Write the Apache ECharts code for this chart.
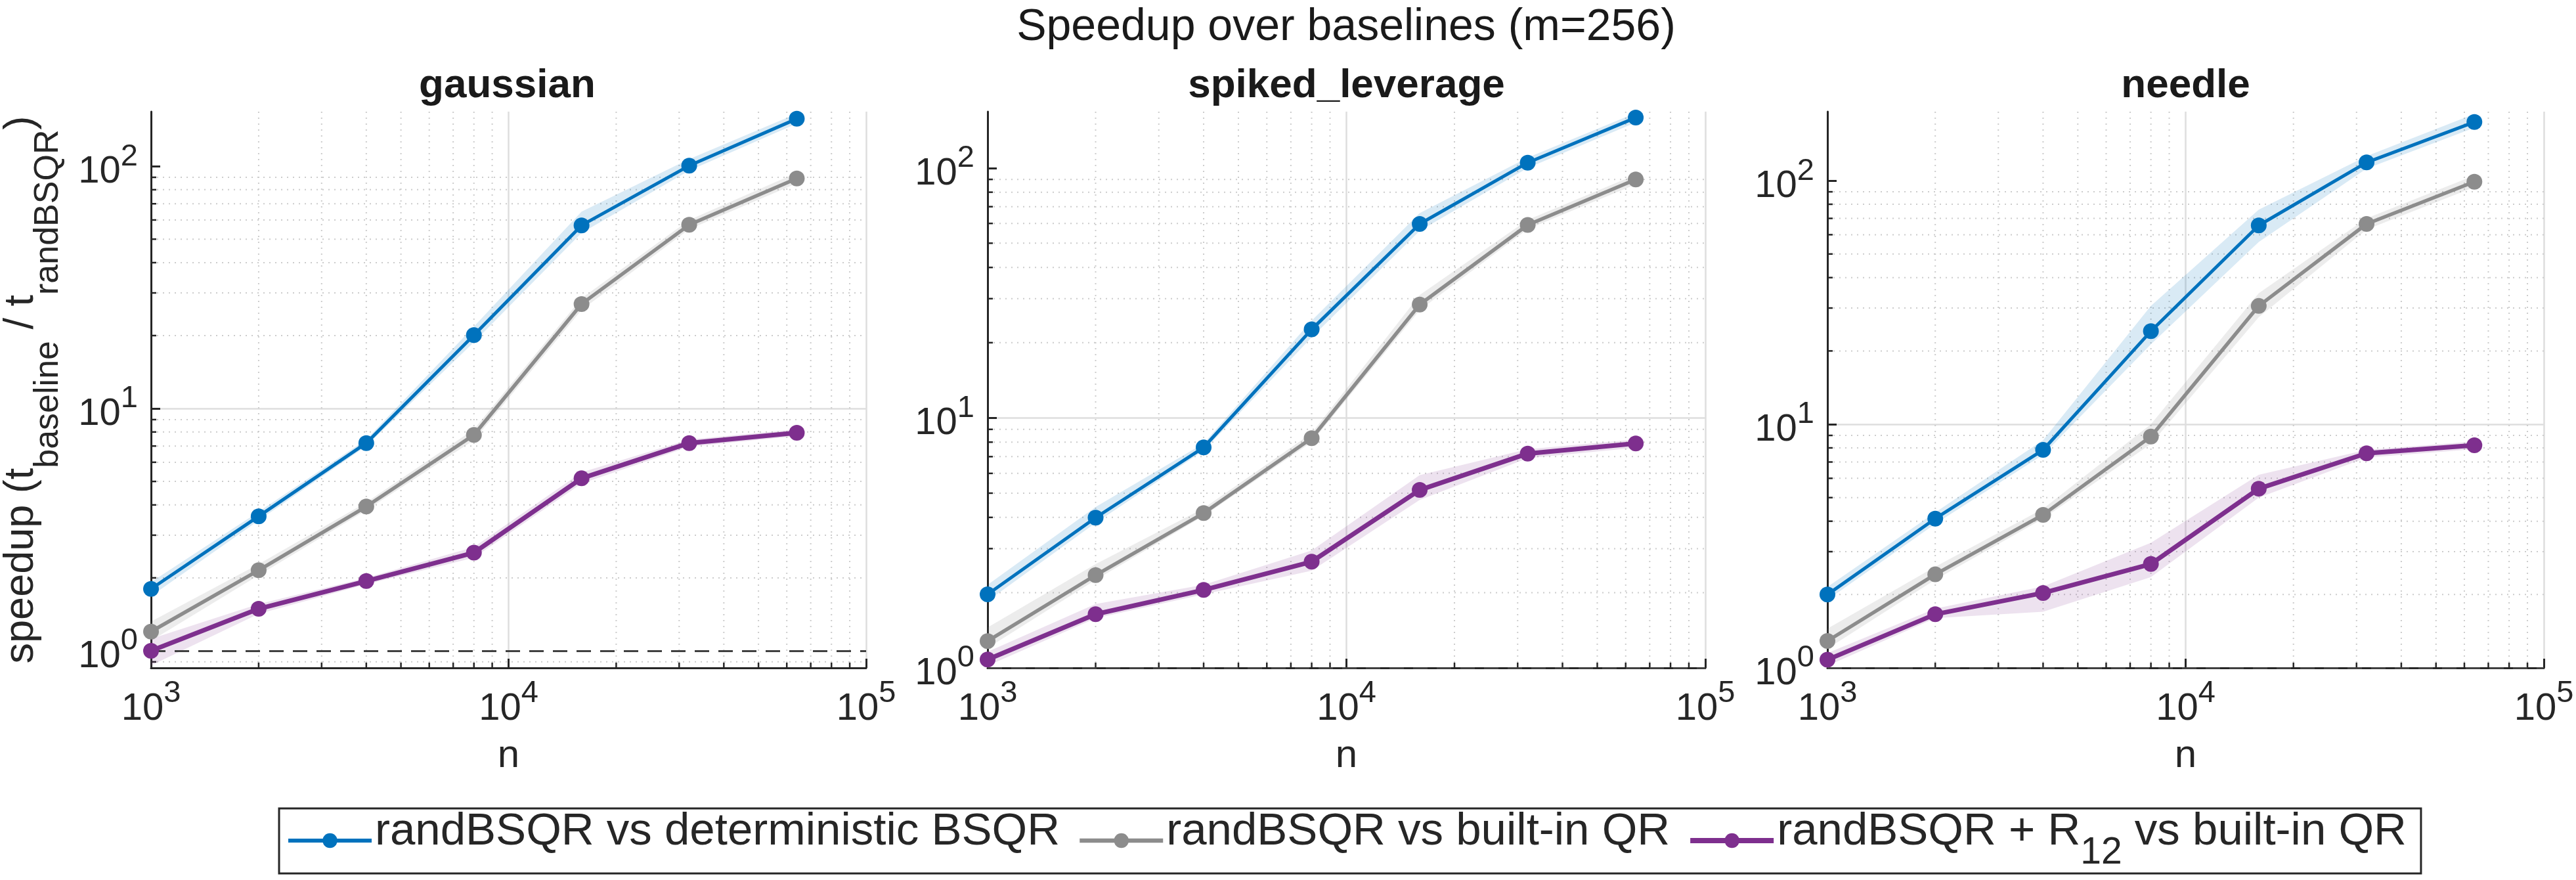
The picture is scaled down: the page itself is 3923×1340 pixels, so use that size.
<!DOCTYPE html>
<html><head><meta charset="utf-8">
<script src="https://cdn.jsdelivr.net/npm/echarts@6/dist/echarts.min.js"></script>
<style>html,body{margin:0;padding:0;background:#fff}#c{width:3923px;height:1340px}</style>
</head><body><div id="c"></div>
<script>
// ---------------- data ----------------
const nValues = [1000, 2000, 4000, 8000, 16000, 32000, 64000];
const panelTitles = ['gaussian', 'spiked_leverage', 'needle'];
const seriesNames = ['randBSQR vs deterministic BSQR', 'randBSQR vs built-in QR', 'randBSQR + R12 vs built-in QR'];
const mainTitle = 'Speedup over baselines (m=256)';
const xAxisName = 'n';
const baselineSpeedup = 1;

// gaussian
const gaussDetMean = [1.80, 3.59, 7.2, 20.1, 57, 100.5, 157];
const gaussDetLo   = [1.68, 3.45, 7.0, 18.8, 53, 96, 150];
const gaussDetHi   = [1.92, 3.75, 7.45, 21.8, 65, 107, 165];
const gaussQrMean  = [1.20, 2.15, 3.94, 7.78, 27.0, 57.3, 89];
const gaussQrLo    = [1.10, 2.05, 3.80, 7.40, 25.5, 55, 85];
const gaussQrHi    = [1.32, 2.28, 4.10, 8.20, 28.5, 60, 94];
const gaussR12Mean = [1.00, 1.49, 1.94, 2.54, 5.15, 7.2, 7.94];
const gaussR12Lo   = [0.87, 1.42, 1.88, 2.42, 4.90, 6.95, 7.7];
const gaussR12Hi   = [1.12, 1.56, 2.00, 2.68, 5.45, 7.45, 8.2];
// spiked_leverage
const spikedDetMean = [1.97, 3.99, 7.62, 22.6, 59.7, 105, 159];
const spikedDetLo   = [1.85, 3.80, 7.40, 21.0, 56, 100, 152];
const spikedDetHi   = [2.15, 4.40, 7.90, 24.5, 66, 110, 166];
const spikedQrMean  = [1.28, 2.35, 4.16, 8.3, 28.4, 59.2, 90];
const spikedQrLo    = [1.20, 2.25, 4.05, 8.0, 27.0, 57, 86];
const spikedQrHi    = [1.45, 2.60, 4.35, 8.7, 31.0, 62, 94];
const spikedR12Mean = [1.08, 1.64, 2.05, 2.66, 5.15, 7.2, 7.9];
const spikedR12Lo   = [1.02, 1.58, 1.97, 2.45, 4.70, 6.9, 7.6];
const spikedR12Hi   = [1.16, 1.80, 2.15, 2.95, 5.90, 7.5, 8.2];
// needle
const needleDetMean = [2.0, 4.1, 7.85, 24.1, 65.5, 118.8, 174];
const needleDetLo   = [1.9, 3.9, 7.5, 21.3, 56, 112, 165];
const needleDetHi   = [2.15, 4.35, 8.6, 30.6, 76, 126, 188];
const needleQrMean  = [1.29, 2.42, 4.25, 8.9, 30.6, 66.4, 99];
const needleQrLo    = [1.20, 2.30, 4.10, 8.3, 27.5, 63, 94];
const needleQrHi    = [1.45, 2.60, 4.50, 10.0, 34.5, 70, 105];
const needleR12Mean = [1.08, 1.66, 2.03, 2.67, 5.44, 7.6, 8.2];
const needleR12Lo   = [1.02, 1.60, 1.70, 2.36, 5.00, 7.3, 7.9];
const needleR12Hi   = [1.15, 1.75, 2.16, 3.26, 6.20, 7.85, 8.5];

// axis ranges and ticks
const xMin = 1000, xMax = 100000;
const yMinByPanel = [0.85, 1, 1];
const yMaxByPanel = [168, 168, 192];
const yMajorTicks = [1, 10, 100];
const decadesX = [1000, 10000];
const decadesY = [0.1, 1, 10, 100];
const minorMultipliers = [2, 3, 4, 5, 6, 7, 8, 9];

// ---------------- styling ----------------
const FONT = "'Liberation Sans', Arial, Helvetica, sans-serif";
const TXT = '#262626';
const colors = ['#0072BD', '#8C8C8C', '#7E2F8E'];
const bandColors = ['rgba(0,114,189,0.15)', 'rgba(128,128,128,0.15)', 'rgba(126,47,142,0.14)'];
const lineWidths = [5, 5.5, 7];
const grids = [
  {left: 226, top: 170, width: 1093, height: 847},
  {left: 1504, top: 170, width: 1093, height: 847},
  {left: 2783, top: 170, width: 1091, height: 847}
];

const panels = [
  [[gaussDetMean, gaussDetLo, gaussDetHi], [gaussQrMean, gaussQrLo, gaussQrHi], [gaussR12Mean, gaussR12Lo, gaussR12Hi]],
  [[spikedDetMean, spikedDetLo, spikedDetHi], [spikedQrMean, spikedQrLo, spikedQrHi], [spikedR12Mean, spikedR12Lo, spikedR12Hi]],
  [[needleDetMean, needleDetLo, needleDetHi], [needleQrMean, needleQrLo, needleQrHi], [needleR12Mean, needleR12Lo, needleR12Hi]]
];

const F_TICK = 58, F_SUP = 47;
const tickRich = {
  b: {fontSize: F_TICK, height: F_TICK, padding: [18, 0, 0, 0], verticalAlign: 'top', color: TXT, fontFamily: FONT},
  p: {fontSize: F_SUP, height: F_SUP, verticalAlign: 'top', color: TXT, fontFamily: FONT}
};
function powLabel(v) {
  const e = Math.round(Math.log10(v));
  if (Math.abs(v / Math.pow(10, e) - 1) > 1e-6) return '';
  return '{b|10}{p|' + e + '}';
}

const F_LAB = 63, F_SUB = 52;
const yNameRich = {
  b: {fontSize: F_LAB, height: F_LAB, padding: [0, 0, 36, 0], verticalAlign: 'top', color: TXT, fontFamily: FONT},
  s: {fontSize: F_SUB, height: F_SUB, padding: [47, 0, 0, 0], verticalAlign: 'top', color: TXT, fontFamily: FONT}
};

const F_LEG = 69, F_LEGSUB = 57;
const legendRich = {
  b: {fontSize: F_LEG, height: F_LEG, padding: [0, 0, 27, 0], verticalAlign: 'top', color: TXT, fontFamily: FONT},
  s: {fontSize: F_LEGSUB, height: F_LEGSUB, padding: [39, 0, 0, 0], verticalAlign: 'top', color: TXT, fontFamily: FONT}
};

function minorValues(decades, lo, hi) {
  const out = [];
  decades.forEach(d => minorMultipliers.forEach(m => { const v = m * d; if (v > lo && v < hi) out.push(v); }));
  return out;
}

const xAxes = [], yAxes = [], series = [], titles = [];
titles.push({text: mainTitle, left: 2050, top: 8, textAlign: 'center', padding: 0,
  textStyle: {fontSize: 68, fontWeight: 'normal', color: '#1a1a1a', fontFamily: FONT}});

grids.forEach((g, p) => {
  titles.push({text: panelTitles[p], left: g.left + g.width / 2, top: 100, textAlign: 'center', padding: 0,
    textStyle: {fontSize: 62, fontWeight: 'bold', color: '#1a1a1a', fontFamily: FONT}});
  xAxes.push({
    type: 'log', logBase: 10, gridIndex: p, min: xMin, max: xMax,
    axisLine: {show: true, onZero: false, lineStyle: {color: TXT, width: 3}},
    axisTick: {show: true, inside: true, length: 14, lineStyle: {color: TXT, width: 3}},
    axisLabel: {show: true, margin: 16, formatter: powLabel, rich: tickRich, showMinLabel: true, showMaxLabel: true},
    splitLine: {show: true, lineStyle: {color: '#dedede', width: 2.5}},
    name: xAxisName, nameLocation: 'middle', nameGap: 104,
    nameTextStyle: {fontSize: 60, color: TXT, fontFamily: FONT}
  });
  const yAx = {
    type: 'log', logBase: 10, gridIndex: p, min: yMinByPanel[p], max: yMaxByPanel[p],
    axisLine: {show: true, onZero: false, lineStyle: {color: TXT, width: 3}},
    axisTick: {show: true, inside: true, length: 14, lineStyle: {color: TXT, width: 3}, customValues: yMajorTicks},
    axisLabel: {show: true, margin: 20, formatter: powLabel, rich: tickRich, customValues: yMajorTicks},
    splitLine: {show: true, showMinLine: false, showMaxLine: false, lineStyle: {color: '#dedede', width: 2.5}}
  };
  if (p === 0) {
    yAx.name = '{b|speedup (t}{s|baseline}{b| / t}{s|randBSQR}{b|)}';
    yAx.nameLocation = 'middle';
    yAx.nameGap = 130;
    yAx.nameRotate = 90;
    yAx.nameTextStyle = {rich: yNameRich, fontSize: F_LAB, color: TXT, fontFamily: FONT};
  }
  yAxes.push(yAx);

  const ylo = yMinByPanel[p], yhi = yMaxByPanel[p];
  const mx = minorValues(decadesX, xMin, xMax);
  const my = minorValues(decadesY, ylo, yhi);
  // minor vertical grid + minor ticks (x)
  series.push({
    type: 'custom', xAxisIndex: p, yAxisIndex: p, silent: true, z: 0, animation: false,
    data: mx.map(v => [v, baselineSpeedup]),
    encode: {x: 0},
    renderItem: (params, api) => {
      const cs = params.coordSys;
      const x = api.coord([api.value(0), baselineSpeedup])[0];
      return {type: 'group', children: [
        {type: 'line', shape: {x1: x, y1: cs.y, x2: x, y2: cs.y + cs.height},
          style: {stroke: '#cccccc', lineWidth: 2, lineDash: [2, 7]}},
        {type: 'line', shape: {x1: x, y1: cs.y + cs.height, x2: x, y2: cs.y + cs.height - 8},
          style: {stroke: TXT, lineWidth: 2.5}}
      ]};
    }
  });
  // minor horizontal grid + minor ticks (y)
  series.push({
    type: 'custom', xAxisIndex: p, yAxisIndex: p, silent: true, z: 0, animation: false,
    data: my.map(v => [xMin, v]),
    encode: {y: 1},
    renderItem: (params, api) => {
      const cs = params.coordSys;
      const y = api.coord([xMin, api.value(1)])[1];
      return {type: 'group', children: [
        {type: 'line', shape: {x1: cs.x, y1: y, x2: cs.x + cs.width, y2: y},
          style: {stroke: '#cccccc', lineWidth: 2, lineDash: [2, 7]}},
        {type: 'line', shape: {x1: cs.x, y1: y, x2: cs.x + 8, y2: y},
          style: {stroke: TXT, lineWidth: 2.5}}
      ]};
    }
  });

  panels[p].forEach((trip, k) => {
    const lo = trip[1], hi = trip[2];
    series.push({
      type: 'custom', xAxisIndex: p, yAxisIndex: p, silent: true, z: 1, animation: false,
      data: nValues.map((n, i) => [n, lo[i], hi[i]]),
      encode: {x: 0, y: [1, 2]},
      renderItem: (params, api) => {
        if (params.dataIndex !== 0) return null;
        const pts = [];
        for (let i = 0; i < nValues.length; i++) pts.push(api.coord([nValues[i], hi[i]]));
        for (let i = nValues.length - 1; i >= 0; i--) pts.push(api.coord([nValues[i], lo[i]]));
        return {type: 'polygon', shape: {points: pts}, style: {fill: bandColors[k]}};
      }
    });
  });
  panels[p].forEach((trip, k) => {
    series.push({
      type: 'line', name: seriesNames[k], xAxisIndex: p, yAxisIndex: p, z: 3 + k,
      data: nValues.map((n, i) => [n, trip[0][i]]),
      symbol: 'circle', symbolSize: 24, showSymbol: true,
      lineStyle: {color: colors[k], width: lineWidths[k]},
      itemStyle: {color: colors[k]},
      emphasis: {disabled: true}, animation: false
    });
  });
  series.push({
    type: 'line', xAxisIndex: p, yAxisIndex: p, data: [], z: 8, animation: false,
    markLine: {silent: true, symbol: ['none', 'none'], label: {show: false}, animation: false,
      lineStyle: {color: '#404040', width: 3, type: [22, 14]},
      data: [{yAxis: baselineSpeedup}]}
  });
});

const chart = echarts.init(document.getElementById('c'), null, {renderer: 'canvas'});
chart.setOption({
  backgroundColor: '#ffffff',
  animation: false,
  textStyle: {fontFamily: FONT},
  title: titles,
  grid: grids.map(g => Object.assign({containLabel: false}, g)),
  xAxis: xAxes,
  yAxis: yAxes,
  legend: {
    data: seriesNames.map((nm, k) => ({name: nm, lineStyle: {width: lineWidths[k] + 1, color: colors[k]}, itemStyle: {color: colors[k]}})),
    left: 425, top: 1231, orient: 'horizontal',
    padding: [1, 22, 2, 11], itemGap: 27, itemWidth: 127, itemHeight: 28,
    borderColor: '#262626', borderWidth: 3, backgroundColor: '#fff',
    selectedMode: false,
    formatter: name => name === seriesNames[2]
      ? '{b|randBSQR + R}{s|12}{b| vs built-in QR}'
      : '{b|' + name + '}',
    textStyle: {fontSize: F_LEG, color: TXT, fontFamily: FONT, rich: legendRich}
  },
  series: series
});
</script>
</body></html>
